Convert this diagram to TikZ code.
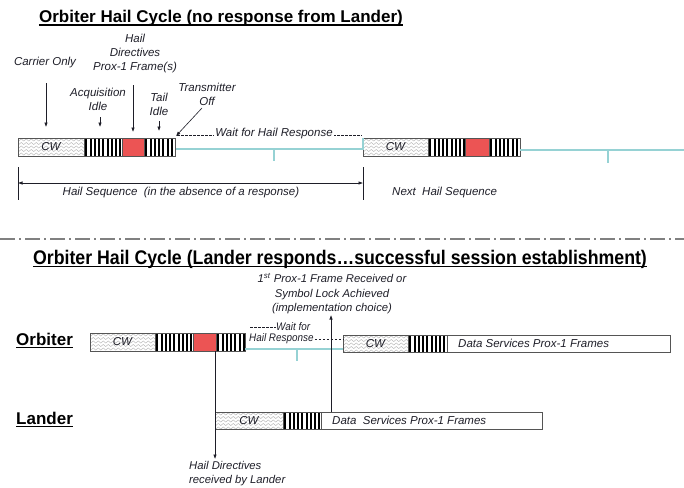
\documentclass[tikz,border=0pt]{standalone}
\usepackage{fontspec}
\setmainfont{Liberation Sans}
\newfontfamily\narrowfont[FakeStretch=0.9]{Liberation Sans}
\usetikzlibrary{arrows.meta,decorations.pathmorphing}
\definecolor{hailred}{RGB}{236,84,84}
\definecolor{tealline}{RGB}{150,210,212}
\definecolor{sepgray}{RGB}{128,128,128}
\definecolor{boxgray}{RGB}{85,85,85}
\definecolor{txt}{RGB}{30,30,40}
\begin{document}
\begin{tikzpicture}[x=1pt,y=-1pt,
  seg/.style={draw=boxgray, line width=0.7pt, anchor=north west, inner sep=0pt, outer sep=0pt, minimum height=18pt},
  cwseg/.style={seg, fill=white, font=\fontsize{11.5}{13}\selectfont\itshape, text=txt,
    path picture={\foreach \j in {2,5.5,9,12.5,16}{\draw[gray!55, line width=0.45pt, decorate, decoration={zigzag, segment length=5pt, amplitude=1.1pt}] ([yshift=-\j pt, xshift=-3pt]path picture bounding box.north west) -- ([yshift=-\j pt, xshift=3pt]path picture bounding box.north east);}}},
  stripeseg/.style={seg, fill=white,
    path picture={\foreach \i in {0,...,12}{\fill[black] ([xshift=\i*4.25pt+1.3pt]path picture bounding box.north west) rectangle ([xshift=\i*4.25pt+3.4pt]path picture bounding box.south west);}}},
  redseg/.style={seg, fill=hailred},
  dataseg/.style={seg, fill=white},
  lbl/.style={font=\fontsize{11.5}{14}\selectfont\itshape, text=txt, align=center, inner sep=0pt},
  midlbl/.style={font=\fontsize{11.3}{14.5}\selectfont\itshape, text=txt, align=center, inner sep=0pt},
  smalllbl/.style={font=\narrowfont\fontsize{11}{14.5}\selectfont\itshape, text=txt, align=center, inner sep=0pt},
  arr/.style={draw=txt, line width=0.6pt, -{Latex[length=4.5pt,width=3.5pt]}},
  plain/.style={draw=txt, line width=0.6pt},
  waitdash/.style={draw=txt, line width=0.8pt, dash pattern=on 2.5pt off 1.5pt},
  tealpath/.style={draw=tealline, line width=1.2pt},
  ttl/.style={font=\bfseries\fontsize{17}{21}\selectfont, text=black, inner sep=0pt},
  ttltwo/.style={font=\narrowfont\bfseries\fontsize{19.7}{23}\selectfont, text=black, inner sep=0pt},
  side/.style={font=\bfseries\fontsize{17}{20}\selectfont, text=black, inner sep=0pt, anchor=west}
]
\useasboundingbox (0,0) rectangle (684,487);

% ---------------- Section 1 ----------------
\node[ttl] (title1) at (221,18) {Orbiter Hail Cycle (no response from Lander)};
\draw[line width=1.4pt] ([yshift=-2.5pt]title1.base west) -- ([yshift=-2.5pt]title1.base east);

% labels
\node[lbl] (carrier) at (45,63) {Carrier Only};
\node[lbl] (haildir) at (135,54) {Hail\\Directives\\Prox-1 Frame(s)};
\node[lbl] (acq) at (98,99) {Acquisition\\Idle};
\node[lbl] (tail) at (159,104) {Tail\\Idle};
\node[lbl] (txoff) at (207,94) {Transmitter\\Off};

% bar 1
\node[cwseg, minimum width=66pt] (cwA) at (18,138) {CW};
\node[stripeseg, minimum width=38pt] (stA1) at (84,138) {};
\node[redseg, minimum width=22pt] (redA) at (122,138) {};
\node[stripeseg, minimum width=31pt] (stA2) at (144,138) {};

% bar 2
\node[cwseg, minimum width=65pt] (cwB) at (363,138) {CW};
\node[stripeseg, minimum width=37pt] (stB1) at (428,138) {};
\node[redseg, minimum width=24pt] (redB) at (465,138) {};
\node[stripeseg, minimum width=31pt] (stB2) at (489,138) {};

% label arrows
\coordinate (c1s) at (46,83);  \coordinate (c1e) at (46,127);
\coordinate (c2s) at (133,85); \coordinate (c2e) at (133,132);
\coordinate (c3s) at (100,117); \coordinate (c3e) at (100,127);
\coordinate (c4s) at (159,121); \coordinate (c4e) at (159,131);
\coordinate (c5s) at (202,108); \coordinate (c5e) at (176,136);
\draw[arr] (c1s) -- (c1e);
\draw[arr] (c2s) -- (c2e);
\draw[arr] (c3s) -- (c3e);
\draw[arr] (c4s) -- (c4e);
\draw[arr] (c5s) -- (c5e);

% wait for hail response (top)
\coordinate (tA) at (176,149); \coordinate (tB) at (363,149);
\coordinate (tick1a) at (274,149); \coordinate (tick1b) at (274,161);
\draw[tealpath] (tA) -- (tB) -- (cwB.north west);
\draw[tealpath] (tick1a) -- (tick1b);
\coordinate (w1a) at (177,135); \coordinate (w1b) at (362,135);
\draw[waitdash] (w1a) -- (w1b);
\node[lbl, fill=white, inner xsep=1.5pt, inner ysep=1pt] (wait1) at (274,134) {Wait for Hail Response};

% teal after bar 2
\coordinate (tE) at (520,150); \coordinate (tC) at (684,150);
\coordinate (tick2a) at (608,150); \coordinate (tick2b) at (608,163);
\draw[tealpath] (tE) -- (tC);
\draw[tealpath] (tick2a) -- (tick2b);

% hail sequence
\coordinate (hs1a) at (18,167); \coordinate (hs1b) at (18,200);
\coordinate (hs2a) at (363,167); \coordinate (hs2b) at (363,200);
\coordinate (hsL) at (18,183); \coordinate (hsR) at (363,183);
\draw[plain] (hs1a) -- (hs1b);
\draw[plain] (hs2a) -- (hs2b);
\draw[draw=txt, line width=0.6pt, {Latex[length=4.5pt,width=3.5pt]}-{Latex[length=4.5pt,width=3.5pt]}] (hsL) -- (hsR);
\node[lbl] (hseq) at (181,193) {Hail Sequence\ \ (in the absence of a response)};
\node[lbl, anchor=west] (nseq) at (392,193) {Next\ \ Hail Sequence};

% separator
\coordinate (sepL) at (0,239); \coordinate (sepR) at (684,239);
\draw[sepgray, line width=2pt, dash pattern=on 15pt off 4pt on 2pt off 4pt] (sepL) -- (sepR);

% ---------------- Section 2 ----------------
\node[ttltwo] (title2) at (340,259) {Orbiter Hail Cycle (Lander responds\ldots successful session establishment)};
\draw[line width=1.4pt] ([yshift=-2.5pt]title2.base west) -- ([yshift=-2.5pt]title2.base east);

\node[midlbl] (firstlbl) at (332,294) {1\textsuperscript{st} Prox-1 Frame Received or\\Symbol Lock Achieved\\(implementation choice)};

\node[side] (orb) at (16,339) {Orbiter};
\draw[line width=1.4pt] ([yshift=-2.5pt]orb.base west) -- ([yshift=-2.5pt]orb.base east);
\node[side] (land) at (16,418) {Lander};
\draw[line width=1.4pt] ([yshift=-2.5pt]land.base west) -- ([yshift=-2.5pt]land.base east);

% orbiter bar
\node[cwseg, minimum width=65pt] (cwC) at (90,333) {CW};
\node[stripeseg, minimum width=38pt] (stC1) at (155,333) {};
\node[redseg, minimum width=23pt] (redC) at (193,333) {};
\node[stripeseg, minimum width=29pt] (stC2) at (216,333) {};

% orbiter bar 2
\node[cwseg, minimum width=65pt, minimum height=17pt] (cwD) at (343,335) {CW};
\node[stripeseg, minimum width=39pt, minimum height=17pt] (stD) at (408,335) {};
\node[dataseg, minimum width=223pt, minimum height=17pt] (dataD) at (447,335) {};
\node[lbl, anchor=west] (dataDtxt) at ([xshift=11pt]dataD.west) {Data Services Prox-1 Frames};

% wait (orbiter)
\coordinate (tF) at (245,349); \coordinate (tG) at (343,349);
\coordinate (tick3a) at (297,349); \coordinate (tick3b) at (297,361);
\draw[tealpath] (tF) -- (tG);
\draw[tealpath] (tick3a) -- (tick3b);
\coordinate (w2a) at (250,327); \coordinate (w2b) at (276,327);
\draw[waitdash] (w2a) -- (w2b);
\node[smalllbl, anchor=west] (wait2a) at (276,327) {Wait for};
\node[smalllbl, anchor=west] (wait2b) at (249,339) {Hail Response};
\coordinate (w3a) at (wait2b.east); \coordinate (w3b) at (343,339);
\draw[waitdash] ([xshift=1pt]w3a) -- (w3b);

% lander bar
\node[cwseg, minimum width=68pt, minimum height=17pt] (cwE) at (215,412) {CW};
\node[stripeseg, minimum width=38pt, minimum height=17pt] (stE) at (283,412) {};
\node[dataseg, minimum width=221pt, minimum height=17pt] (dataE) at (321,412) {};
\node[lbl, anchor=west] (dataEtxt) at ([xshift=11pt]dataE.west) {Data\ \ Services Prox-1 Frames};

% arrows between orbiter and lander
\coordinate (hdS) at (215,351); \coordinate (hdE) at (215,459);
\draw[arr] (hdS) -- (hdE);
\node[midlbl, align=left, anchor=north west] (hdlbl) at (189,461) {Hail Directives\\received by Lander};
\coordinate (upS) at (331,412); \coordinate (upE) at (331,315);
\draw[arr] (upS) -- (upE);

\end{tikzpicture}
\end{document}
